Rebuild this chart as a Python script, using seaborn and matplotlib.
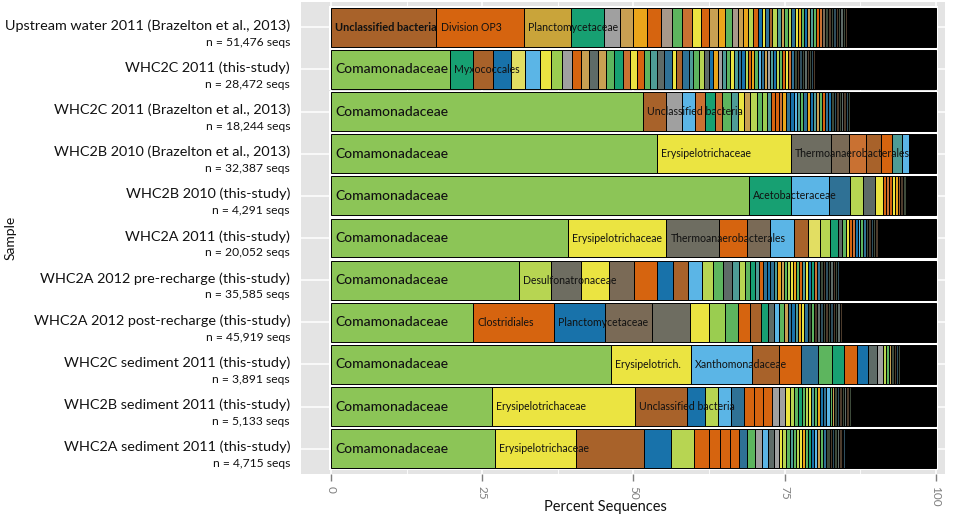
import matplotlib
matplotlib.use("Agg")
import matplotlib.pyplot as plt
import matplotlib.transforms as mtransforms
import numpy as np
import seaborn as sns

# ---------------- data ----------------
samples = [
    "Upstream water 2011 (Brazelton et al., 2013)",
    "WHC2C 2011 (this-study)",
    "WHC2C 2011 (Brazelton et al., 2013)",
    "WHC2B 2010 (Brazelton et al., 2013)",
    "WHC2B 2010 (this-study)",
    "WHC2A 2011 (this-study)",
    "WHC2A 2012 pre-recharge (this-study)",
    "WHC2A 2012 post-recharge (this-study)",
    "WHC2C sediment 2011 (this-study)",
    "WHC2B sediment 2011 (this-study)",
    "WHC2A sediment 2011 (this-study)",
]
seq_counts = [
    "n = 51,476 seqs", "n = 28,472 seqs", "n = 18,244 seqs", "n = 32,387 seqs",
    "n = 4,291 seqs", "n = 20,052 seqs", "n = 35,585 seqs", "n = 45,919 seqs",
    "n = 3,891 seqs", "n = 5,133 seqs", "n = 4,715 seqs",
]

# percent of sequences per taxon (in plotted order), one list per sample
pct_row01 = [17.4, 14.5, 7.8, 5.5, 2.6, 2.2, 2.3, 2.3, 1.8, 1.7, 1.6, 1.5, 1.3, 1.4, 1.2,
             1.1, 1.0, 0.9, 0.8, 0.8, 0.8, 0.7, 0.6, 0.6, 0.5,
             0.8, 0.6, 0.6, 0.6, 0.6, 0.6, 0.5, 0.5, 0.5, 0.5, 0.5, 0.5, 0.5, 0.5, 0.5,
             0.5, 0.5, 0.4, 0.4, 0.4, 0.4, 0.4, 0.4, 0.3, 0.4]
pct_row02 = [19.7, 3.8, 3.3, 3.0, 2.3, 2.5, 1.7, 1.8, 1.7, 1.5, 1.3, 1.5, 1.4, 1.3, 1.4,
             1.2, 1.1, 1.2, 1.0, 1.2, 1.2, 1.2, 0.8, 1.0, 1.0, 0.8, 1.0, 0.8, 0.7, 0.7,
             0.8, 0.7, 0.7,
             0.7, 0.6, 0.6, 0.6, 0.6, 0.6, 0.5, 0.5, 0.5, 0.5, 0.5, 0.5, 0.5, 0.5, 0.5,
             0.5, 0.5, 0.5, 0.5, 0.5, 0.5, 0.5, 0.4, 0.4, 0.4, 0.4, 0.4, 0.4, 0.3, 0.3]
pct_row03 = [51.6, 3.8, 2.6, 2.1, 1.7, 1.7, 1.2, 1.4, 1.2, 1.0, 1.0, 1.1, 0.8, 0.8, 0.7,
             0.7, 0.7, 0.5, 0.6,
             0.7, 0.6, 0.6, 0.5, 0.5, 0.5, 0.5, 0.5, 0.5, 0.5, 0.5, 0.5, 0.5, 0.5, 0.5,
             0.4, 0.4, 0.4, 0.4, 0.4, 0.4, 0.3]
pct_row04 = [53.9, 22.1, 6.6, 3.0, 2.8, 2.5, 1.8, 1.7, 1.2]
pct_row05 = [69.1, 6.9, 6.3, 3.5, 2.1, 2.1, 1.2, 0.6, 0.5, 0.5, 0.5, 0.4, 0.4, 0.5, 0.4]
pct_row06 = [39.2, 16.2, 8.8, 4.5, 3.8, 4.0, 2.3, 2.0, 1.7, 1.3, 0.7, 0.6, 0.5, 0.5, 0.5,
             0.5, 0.4, 0.4, 0.5, 0.4, 0.4, 0.4, 0.4, 0.4]
pct_row07 = [31.1, 5.3, 5.0, 4.6, 4.1, 3.8, 2.6, 2.5, 2.3, 1.8, 1.7, 1.5, 1.2, 1.0, 0.8,
             0.8, 0.7, 0.6, 0.6, 0.6,
             0.6, 0.6, 0.6, 0.5, 0.5, 0.5, 0.5, 0.5, 0.5, 0.5, 0.5, 0.5, 0.5, 0.5, 0.5,
             0.5, 0.4, 0.4, 0.4, 0.4, 0.4, 0.4, 0.4, 0.3]
pct_row08 = [23.5, 13.4, 8.4, 7.8, 6.3, 3.0, 2.8, 2.0, 2.1, 1.7, 1.3, 1.0, 0.8, 0.7, 0.7,
             0.6, 0.6, 0.5, 0.5, 0.5,
             0.6, 0.5, 0.5, 0.5, 0.5, 0.5, 0.4, 0.4, 0.4, 0.4, 0.4, 0.4, 0.4, 0.4]
pct_row09 = [46.3, 13.2, 10.1, 4.5, 3.6, 2.8, 2.3, 2.0, 2.1, 1.8, 1.5, 1.0, 0.5, 0.5, 0.4,
             0.4, 0.4, 0.4, 0.3]
pct_row10 = [26.6, 23.6, 8.6, 3.1, 2.1, 2.1, 2.1, 1.7, 1.5, 1.5, 1.1, 1.0, 0.8, 0.7, 0.7,
             0.6,
             0.6, 0.5, 0.5, 0.5, 0.5, 0.5, 0.5, 0.5, 0.5, 0.4, 0.4, 0.4, 0.4, 0.4, 0.4,
             0.4, 0.4, 0.3]
pct_row11 = [27.1, 13.4, 11.2, 4.5, 3.8, 2.5, 1.8, 1.7, 1.5, 1.3, 1.3, 1.2, 1.0, 1.0, 0.7,
             0.6, 0.6,
             0.6, 0.6, 0.5, 0.5, 0.5, 0.5, 0.5, 0.5, 0.5, 0.5, 0.5, 0.5, 0.5, 0.5, 0.4,
             0.4, 0.4, 0.4, 0.4, 0.3, 0.3]

# remaining (low-abundance / unassigned) share drawn in black
pct_other = [14.7, 20.0, 14.2, 4.4, 5.0, 9.6, 16.0, 15.5, 5.9, 14.1, 15.0]

# taxon colour codes, one character per segment
taxa_row01 = "bodtrkaoeGcyokaGekaloBynb" + "lqkGlnyaGBkqGocmhjhvjhxhj"
taxa_row02 = "gtbBpsyLrokxkGtcyoGqxnybnqGlxBarq" + "GyqnBloaGsnkrqBlGoycnhjvhxjhvj"
taxa_row03 = "gbrsctcGqyklGLqooca" + "nBsqGnaBqkGonBhvjhxjvh"
taxa_row04 = "gyDmcboqs"
taxa_row05 = "gtsnlxyocoyabjh"
taxa_row06 = "gyDomsbpltxGyocBsG" + "nhjvhj"
taxa_row07 = "glDymoBbslGxqlGtqonB" + "nqakGlyaGoqyBtcnhjvhxjhv"
taxa_row08 = "goBmDyLGobtxsGknBqay" + "nhGjxvhjhvjhxj"
taxa_row09 = "gysbonGtoBxrlGkhjvh"
taxa_row10 = "gybBlsnooorrylGt" + "GlyqGaBnsGkhvjhxjh"
taxa_row11 = "gybBloooonGrsxrylG" + "qGlyaGtBskGnhjvhxjhvj"

# in-bar taxon labels: (sample row, segment index, text)
label_row = [0, 0, 0, 1, 1, 2, 2, 3, 3, 3, 4, 4, 5, 5, 5, 6, 6, 7, 7, 7, 8, 8, 8,
             9, 9, 9, 10, 10]
label_seg = [0, 1, 2, 0, 1, 0, 1, 0, 1, 2, 0, 1, 0, 1, 2, 0, 1, 0, 1, 2, 0, 1, 2,
             0, 1, 2, 0, 1]
label_text = ["Unclassified bacteria", "Division OP3", "Planctomycetaceae",
              "Comamonadaceae", "Myxococcales",
              "Comamonadaceae", "Unclassified bacteria",
              "Comamonadaceae", "Erysipelotrichaceae", "Thermoanaerobacterales",
              "Comamonadaceae", "Acetobacteraceae",
              "Comamonadaceae", "Erysipelotrichaceae", "Thermoanaerobacterales",
              "Comamonadaceae", "Desulfonatronaceae",
              "Comamonadaceae", "Clostridiales", "Planctomycetaceae",
              "Comamonadaceae", "Erysipelotrich.", "Xanthomonadaceae",
              "Comamonadaceae", "Erysipelotrichaceae", "Unclassified bacteria",
              "Comamonadaceae", "Erysipelotrichaceae"]

x_ticks = [0, 25, 50, 75, 100]

# ---------------- style ----------------
palette = {
    "g": "#8CC557", "b": "#A8622A", "o": "#D6640F", "d": "#C9A43A", "t": "#17A072",
    "r": "#A0A0A0", "k": "#C8A052", "a": "#EAA51A", "e": "#A8988A", "G": "#5DB55E",
    "c": "#C97132", "y": "#EBE441", "l": "#B7D552", "B": "#1872AA", "s": "#5BB5E6",
    "n": "#2F7195", "D": "#6E6D61", "m": "#7A6A56", "q": "#4E9C96", "x": "#5E6B67",
    "L": "#9ACD50", "p": "#E2DE62", "h": "#3D4A3A", "j": "#4C3B2C", "v": "#2E4D5C",
}

pct_rows = [pct_row01, pct_row02, pct_row03, pct_row04, pct_row05, pct_row06,
            pct_row07, pct_row08, pct_row09, pct_row10, pct_row11]
taxa_rows = [taxa_row01, taxa_row02, taxa_row03, taxa_row04, taxa_row05, taxa_row06,
             taxa_row07, taxa_row08, taxa_row09, taxa_row10, taxa_row11]

sns.set_theme(style="darkgrid")
plt.rcParams["font.family"] = ["Lato", "DejaVu Sans"]

W, H = 964, 520
fig = plt.figure(figsize=(W / 100, H / 100), dpi=100)
ax = fig.add_axes([301 / W, 1 - 474 / H, 644 / W, 472 / H])
ax.set_facecolor("#E4E4E4")

n = len(samples)
rows = np.arange(n)

# white backing behind bars
ax.barh(rows, [100.6] * n, left=-0.3, height=1.0, color="white", linewidth=0, zorder=1)

bar_h = 0.92
lefts_all = []
for i in range(n):
    widths = np.array(pct_rows[i], dtype=float)
    lefts = np.concatenate([[0.0], np.cumsum(widths)[:-1]])
    codes = taxa_rows[i]
    cols = [palette[codes[j % len(codes)]] for j in range(len(widths))]
    ax.barh([i] * len(widths), widths, left=lefts, height=bar_h, color=cols,
            edgecolor="black", linewidth=0.7, zorder=2)
    ax.barh(i, pct_other[i], left=widths.sum(), height=bar_h, color="black",
            edgecolor="black", linewidth=0.7, zorder=2)
    lefts_all.append(lefts)

for r, s, txt in zip(label_row, label_seg, label_text):
    x0 = lefts_all[r][s] + 0.7
    if txt == "Comamonadaceae":
        fs, fw = 10, "medium"
    elif r == 0 and s == 0:
        fs, fw = 7.9, "bold"
    else:
        fs, fw = 7.6, "normal"
    ax.text(x0, r, txt, ha="left", va="center", fontsize=fs, fontweight=fw,
            color="#111111", zorder=3)

# axes
ax.set_xlim(-4.96, 101.49)
ax.set_ylim(n - 1 + 0.6, -0.6)
ax.set_xticks(x_ticks)
ax.set_xticklabels([str(t) for t in x_ticks])
ax.set_xticks([12.5, 37.5, 62.5, 87.5], minor=True)
ax.set_yticks(rows)
ax.set_yticklabels([])
ax.grid(True, which="major", color="white", linewidth=1.1)
ax.grid(True, which="minor", axis="x", color="white", linewidth=0.6)
ax.set_axisbelow(True)
for sp in ax.spines.values():
    sp.set_visible(False)

ax.tick_params(axis="x", which="major", length=5, width=1, color="#7F7F7F",
               labelcolor="#7F7F7F", labelsize=8.5, labelrotation=-90, pad=4,
               bottom=True)
ax.tick_params(axis="x", which="minor", length=0)
ax.tick_params(axis="y", length=0)

trans = mtransforms.blended_transform_factory(ax.transAxes, ax.transData)
xlab = (290 - 301) / 644
for i in range(n):
    ax.text(xlab, i - 0.04, samples[i], transform=trans, ha="right", va="center",
            fontsize=10.4, color="#111111")
    ax.text(xlab, i + 0.35, seq_counts[i], transform=trans, ha="right", va="center",
            fontsize=8.7, color="#111111")

ax.set_xlabel("Percent Sequences", fontsize=10.5, color="#111111", va="top")
ax.xaxis.set_label_coords((605 - 301) / 644, -(500 - 474) / 472)
ax.set_ylabel("Sample", fontsize=10, color="#111111")
ax.yaxis.set_label_coords((17 - 301) / 644, 0.5)

fig.savefig("out.png", dpi=100, facecolor="white")
